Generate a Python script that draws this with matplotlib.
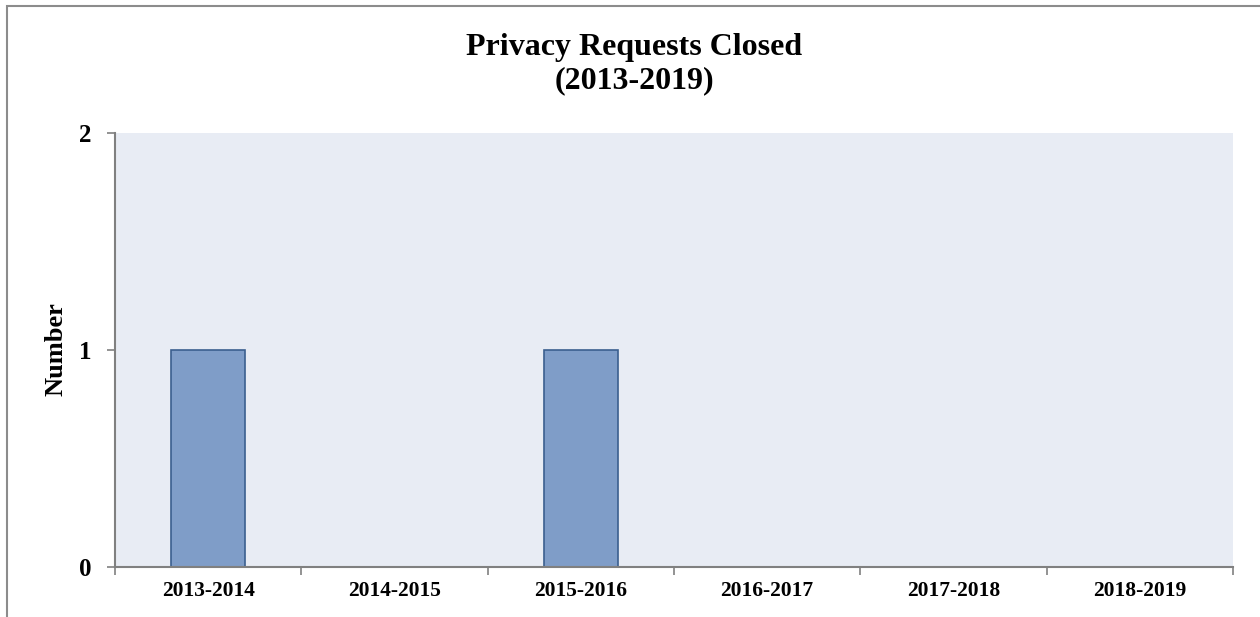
import matplotlib.pyplot as plt
from matplotlib.patches import Rectangle
from matplotlib.ticker import FixedLocator

# data
years = ['2013-2014', '2014-2015', '2015-2016', '2016-2017', '2017-2018', '2018-2019']
closed = [1, 0, 1, 0, 0, 0]

plt.rcParams['font.family'] = ['Liberation Serif', 'DejaVu Serif']
plt.rcParams['font.weight'] = 'bold'

fig = plt.figure(figsize=(12.6, 6.17), dpi=100)
ax = fig.add_axes([115 / 1260, 1 - 567 / 617, (1233 - 115) / 1260, (567 - 133) / 617])

# outer chart border (cut off at the bottom / right in the reference)
fig.patches.append(Rectangle((7 / 1260, -0.05), 1.1, 1.05 - 6 / 617,
                             transform=fig.transFigure, fill=False,
                             edgecolor='#8c8c8c', linewidth=1.5))

ax.set_facecolor('#e8ecf4')
x = range(len(years))
ax.bar(x, closed, width=0.4, color='#7f9dc8', edgecolor='#3b5f8f', linewidth=1.2)

ax.set_xlim(-0.5, len(years) - 0.5)
ax.set_ylim(0, 2)
ax.set_yticks([0, 1, 2])
ax.set_xticks(list(x))
ax.set_xticklabels(years, fontsize=15.5, fontweight='bold')
ax.tick_params(axis='x', which='major', length=0, pad=10)
ax.xaxis.set_minor_locator(FixedLocator([i - 0.5 for i in range(len(years) + 1)]))
ax.tick_params(axis='x', which='minor', length=6, width=1.2, color='#808080', direction='out')
ax.tick_params(axis='y', length=6, width=1.2, color='#808080', direction='out',
               labelsize=18, pad=11)
for lbl in ax.get_yticklabels():
    lbl.set_fontweight('bold')

for side in ['top', 'right']:
    ax.spines[side].set_visible(False)
for side in ['left', 'bottom']:
    ax.spines[side].set_color('#808080')
    ax.spines[side].set_linewidth(1.5)

fig.text(56 / 1260, 1 - 349 / 617, 'Number', rotation=90, ha='center', va='center',
         fontsize=19, fontweight='bold')
fig.text(634 / 1260, 1 - 64 / 617, 'Privacy Requests Closed\n(2013-2019)',
         ha='center', va='center', fontsize=23, fontweight='bold', linespacing=1.2)

fig.savefig('out.png', dpi=100)
